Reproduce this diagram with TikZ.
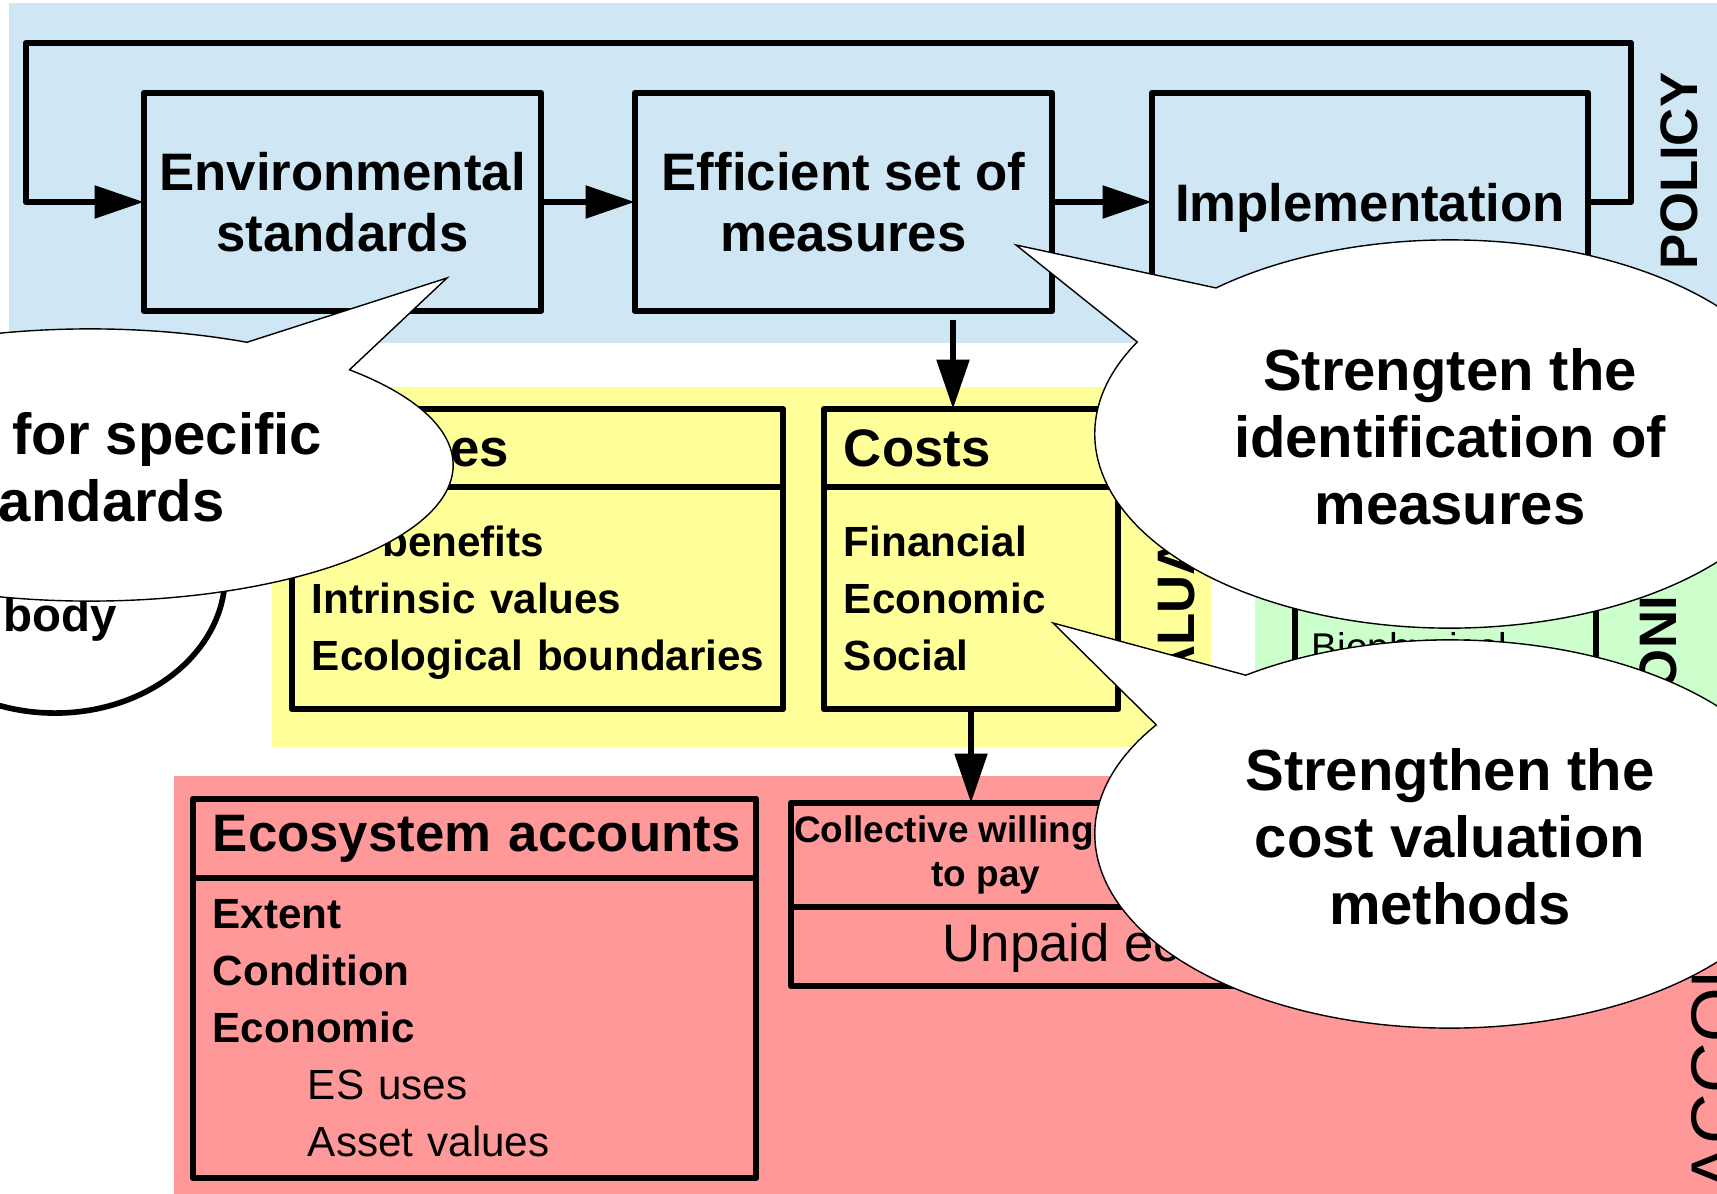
\documentclass[tikz,border=0pt]{standalone}
\usepackage{fontspec}
\setmainfont{Liberation Sans}
\usetikzlibrary{arrows.meta,positioning}

\definecolor{policyblue}{RGB}{207,231,245}
\definecolor{valueyellow}{RGB}{255,255,153}
\definecolor{monitorgreen}{RGB}{204,255,204}
\definecolor{accountred}{RGB}{255,153,153}

\hyphenpenalty=10000
\exhyphenpenalty=10000

\newcommand{\boxfont}{\fontsize{15}{17.4}\selectfont\bfseries}
\newcommand{\itemfont}{\fontsize{12}{16.2}\selectfont\bfseries}
\newcommand{\notefont}{\fontsize{16.5}{19}\selectfont\bfseries}
\newcommand{\wtpfont}{\fontsize{10.5}{12.5}\selectfont\bfseries}

\tikzset{
  stagebox/.style={draw, line width=1.8pt, line join=round, outer sep=0pt, inner sep=0pt,
    minimum height=2.18cm, text depth=0pt, align=center, font=\boxfont},
  headbox/.style={draw, line width=1.8pt, line join=round, outer sep=0pt, inner xsep=0.2cm,
    inner ysep=0pt, align=left, font=\boxfont},
  listbox/.style={draw, line width=1.8pt, line join=round, outer sep=0pt, inner xsep=0.2cm,
    inner ysep=0pt, align=left, font=\itemfont},
  flow/.style={line width=1.8pt, line join=round, -{Triangle[length=14pt,width=9pt]}},
  sidelabel/.style={rotate=90, inner sep=0pt, font=\boxfont},
  bubble/.style={draw=black, line width=0.4pt, fill=white},
}

\begin{document}
\begin{tikzpicture}[x=0.01cm, y=-0.01cm]
  \useasboundingbox (0,0) rectangle (1717,1194);
  \clip (0,0) rectangle (1717,1194);

  % coloured bands
  \fill[policyblue] (9,3) rectangle (1717,343);
  \fill[valueyellow] (272,387) rectangle (1211,747);
  \fill[monitorgreen] (1255,387) rectangle (1717,747);
  \fill[accountred] (174,776) rectangle (1717,1194);

  % policy cycle
  \node[stagebox, minimum width=3.97cm] (envstd) at (342.5,202) {Environmental\\standards};
  \node[stagebox, minimum width=4.17cm] (effset) at (843.5,202) {Efficient set of\\measures};
  \node[stagebox, minimum width=4.36cm] (implement) at (1370,202) {Implementation};
  \node[sidelabel] (policy) at (1679,171) {POLICY};

  \coordinate (loopright) at (1631,43);
  \coordinate (loopleft) at (26,43);
  \draw[flow] (envstd) -- (effset);
  \draw[flow] (effset) -- (implement);
  \draw[flow] (implement.east) -| (loopright) -- (loopleft) |- (envstd.west);

  % valuation
  \node[headbox, text width=4.51cm, minimum height=0.78cm] (valhead) at (537.5,448) {\hspace*{0.3cm}Values};
  \node[listbox, text width=4.51cm, minimum height=2.22cm, below=0pt of valhead] (valbody)
    {ES~benefits\\Intrinsic~values\\\smash{Ecological~boundaries}};
  \node[headbox, text width=2.54cm, minimum height=0.78cm] (costhead) at (971,448) {Costs};
  \node[listbox, text width=2.54cm, minimum height=2.22cm, below=0pt of costhead] (costbody)
    {Financial\\Economic\\Social};
  \node[sidelabel] (valuation) at (1176,565) {VALUATION};

  \coordinate (effdrop) at (953,320);
  \draw[flow] (effdrop) -- (effdrop |- costhead.north);

  % monitoring
  \node[draw, line width=1.8pt, outer sep=0pt, minimum width=3.01cm, minimum height=1.6cm] (biobox) at (1445.5,640) {};
  \node[anchor=west, inner sep=0pt, font=\fontsize{11}{13}\selectfont] (biotext) at (1311,650) {Biophysical};
  \node[sidelabel] (monitoring) at (1658,563) {MONITORING};

  % accounts
  \node[headbox, text width=5.23cm, minimum height=0.79cm] (ecohead) at (474.5,838.5) {Ecosystem~accounts};
  \node[listbox, text width=5.23cm, minimum height=3.0cm, below=0pt of ecohead] (ecobody)
    {Extent\\Condition\\Economic\\\hspace*{0.95cm}\mdseries ES~uses\\\hspace*{0.95cm}\mdseries Asset~values};
  \node[headbox, text width=7.69cm, minimum height=1.04cm] (wtphead) at (1195.5,855) {};
  \node[listbox, text width=7.69cm, minimum height=0.79cm, below=0pt of wtphead] (uecbody) {};
  \node[align=center, inner sep=0pt, font=\wtpfont] (wtptext) at (986,855) {Collective willingness\\to pay};
  \node[anchor=west, inner sep=0pt, font=\boxfont\mdseries] (uectext) at (942,948) {Unpaid ecological costs};
  \node[sidelabel, anchor=west, font=\fontsize{20}{24}\selectfont] (accounts) at (1716,1192) {ACCOUNTS};

  \draw[flow] (costbody.south) -- (costbody.south |- wtphead.north);

  % remarks
  \draw[line width=1.6pt, fill=white] (55,575) ellipse [x radius=1.7cm, y radius=1.38cm];
  \node[anchor=east, inner sep=0pt, font=\fontsize{13.5}{16}\selectfont\bfseries] (bodytext) at (118,619) {body};

  \coordinate (c1) at (90,465);
  \coordinate (tip1) at (447,278);
  \draw[bubble] ([shift={(44.4:3.63cm and 1.36cm)}]c1) -- (tip1) -- ([shift={(64.4:3.63cm and 1.36cm)}]c1)
    arc[start angle=64.4, end angle=404.4, x radius=3.63cm, y radius=1.36cm] -- cycle;
  \node[align=center, inner sep=0pt, font=\notefont] (note1) at (86,467) {\hspace*{2.8em}for specific\\standards};

  \coordinate (c2) at (1450,434);
  \coordinate (tip2) at (1016,245);
  \draw[bubble] ([shift={(131.2:3.55cm and 1.94cm)}]c2) -- (tip2) -- ([shift={(151.7:3.55cm and 1.94cm)}]c2)
    arc[start angle=151.7, end angle=491.2, x radius=3.55cm, y radius=1.94cm] -- cycle;
  \node[align=center, inner sep=0pt, font=\notefont] (note2) at (1450,437) {Strengten the\\identification of\\measures};

  \coordinate (c3) at (1450,834);
  \coordinate (tip3) at (1053,623);
  \draw[bubble] ([shift={(125.1:3.55cm and 1.94cm)}]c3) -- (tip3) -- ([shift={(145.8:3.55cm and 1.94cm)}]c3)
    arc[start angle=145.8, end angle=485.1, x radius=3.55cm, y radius=1.94cm] -- cycle;
  \node[align=center, inner sep=0pt, font=\notefont] (note3) at (1450,837) {Strengthen the\\cost valuation\\methods};
\end{tikzpicture}
\end{document}
